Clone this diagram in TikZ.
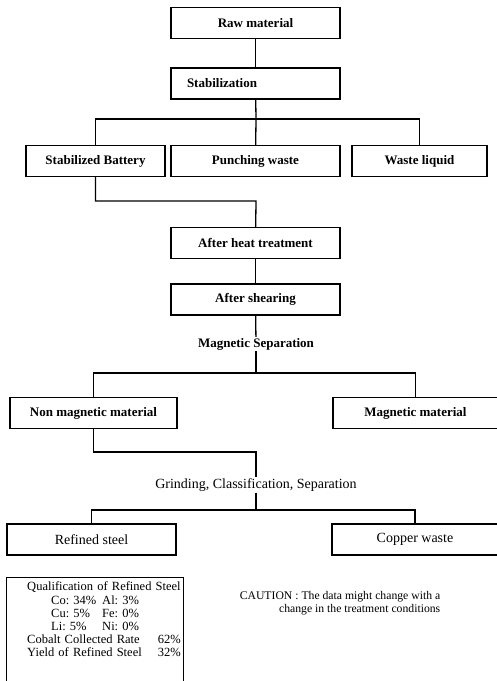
\documentclass[tikz,border=0pt]{standalone}
\usepackage{fontspec}
\setmainfont{Liberation Serif}
\frenchspacing
\begin{document}
\begin{tikzpicture}[x=1pt, y=-1pt]

\tikzstyle{box1}=[rectangle, draw, line width=1.3pt, minimum height=31pt, inner sep=0pt, font=\fontsize{13}{15}\selectfont\bfseries]
\tikzstyle{box2}=[rectangle, draw, line width=1.3pt, minimum height=31pt, inner sep=0pt, font=\fontsize{14}{16}\selectfont]
\tikzstyle{label1}=[inner sep=1pt, font=\fontsize{13}{15}\selectfont\bfseries]
\tikzstyle{label2}=[inner sep=1pt, font=\fontsize{14}{16}\selectfont]
\tikzstyle{line}=[line width=1.3pt]

\useasboundingbox (0,0) rectangle (497,681);

\node (A) [box1, minimum width=169pt] at (255.5,23) {Raw material};
\node (B) [box1, minimum width=169pt, text width=137pt] at (255.5,83.5) {Stabilization};
\node (C) [box1, minimum width=139pt] at (95.5,161) {Stabilized Battery};
\node (D) [box1, minimum width=169pt] at (255.5,161) {Punching waste};
\node (E) [box1, minimum width=135pt] at (419.5,161) {Waste liquid};
\node (F) [box1, minimum width=169pt] at (255.5,243) {After heat treatment};
\node (G) [box1, minimum width=169pt] at (255.5,299.5) {After shearing};
\node (M) [label1] at (256,344) {Magnetic Separation};
\node (H) [box1, minimum width=167pt] at (93.5,413) {Non magnetic material};
\node (I) [box1, minimum width=165pt] at (415.5,413) {Magnetic material};
\node (K) [label2] at (256,485) {Grinding, Classification, Separation};
\node (L) [box2, minimum width=169pt] at (91.5,539.5) {Refined steel};
\node (N) [box2, minimum width=166pt] at (415,539.5) {Copper waste};

\node (Q) [draw, line width=1.3pt, anchor=north west, minimum width=177pt, inner xsep=3pt, inner ysep=4pt,
           text width=171pt, align=right, text depth=100pt, font=\fontsize{12.5}{13.2}\selectfont] at (6,577)
  {\begin{tabular}[t]{@{}l@{}}
   \multicolumn{1}{@{}c@{}}{Qualification of Refined Steel}\\
   \hspace*{24pt}\makebox[51pt][l]{Co: 34\%}Al: 3\%\\
   \hspace*{24pt}\makebox[51pt][l]{Cu: 5\%}Fe: 0\%\\
   \hspace*{24pt}\makebox[51pt][l]{Li: 5\%}Ni: 0\%\\
   Cobalt Collected Rate\hfill 62\%\\
   Yield of Refined Steel\hfill 32\%
   \end{tabular}};

\node (R) [align=right, inner sep=0pt, font=\fontsize{11.7}{12.5}\selectfont] at (340,603)
  {CAUTION : The data might change with a\\ change in the treatment conditions};

% connections
\coordinate (f1) at (256,119);
\coordinate (f2) at (256,201);
\coordinate (f3) at (256,373);
\coordinate (f4) at (256,452);
\coordinate (f5) at (256,510);

\draw [line] (A) -- (B);
\draw [line] (B) -- (f1);
\draw [line] (C.north) |- (f1) -| (E.north);
\draw [line] (f1) -- (D);
\draw [line] (C.south) |- (f2) -- (F);
\draw [line] (F) -- (G);
\draw [line] (G) -- (M);
\draw [line] (M) -- (f3);
\draw [line] (H.north) |- (f3) -| (I.north);
\draw [line] (H.south) |- (f4) -- (K);
\draw [line] (K) -- (f5);
\draw [line] (L.north) |- (f5) -| (N.north);

\end{tikzpicture}
\end{document}
